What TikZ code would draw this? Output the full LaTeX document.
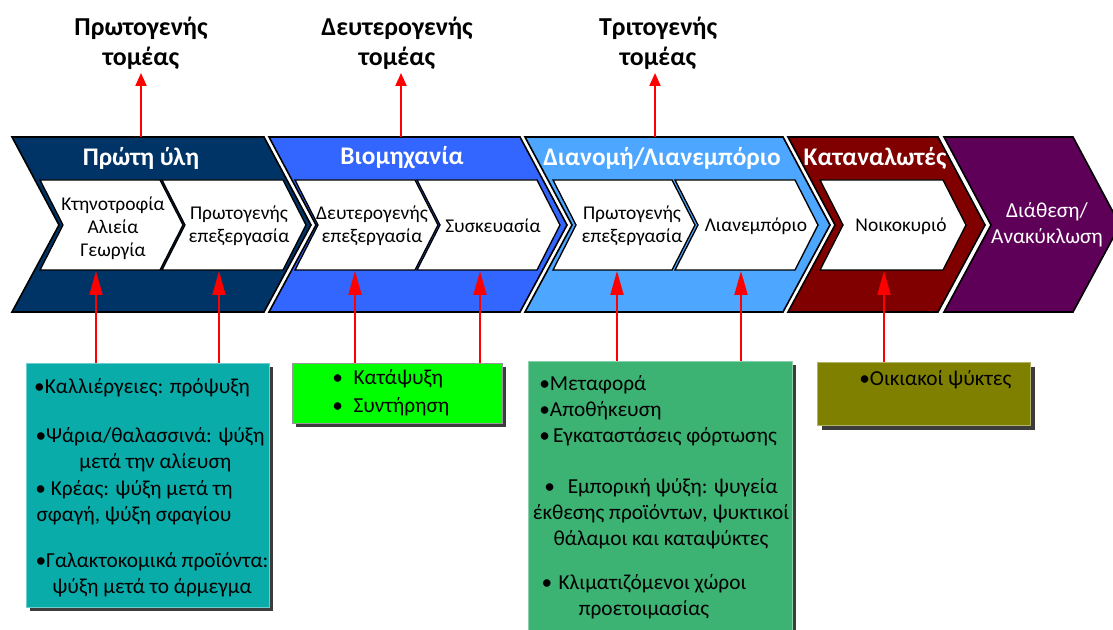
\documentclass[tikz,border=0pt]{standalone}
\usepackage{fontspec}
\setmainfont{Carlito}
\usetikzlibrary{arrows.meta}
\definecolor{cnavy}{RGB}{0,51,102}
\definecolor{cblue}{RGB}{51,102,255}
\definecolor{clblue}{RGB}{77,166,255}
\definecolor{cmaroon}{RGB}{128,0,0}
\definecolor{cpurple}{RGB}{94,0,88}
\definecolor{cteal}{RGB}{10,172,170}
\definecolor{cgreen}{RGB}{0,255,0}
\definecolor{csea}{RGB}{60,178,115}
\definecolor{colive}{RGB}{128,128,0}
\definecolor{cred}{RGB}{255,0,0}
\definecolor{cshadow}{RGB}{60,60,60}
% chevron: x1, x2, ytop, ymid, ybot, depth
\newcommand\chevp[6]{(#1,#3) -- (#2,#3) -- ({#2+#6},#4) -- (#2,#5) -- (#1,#5) -- ({#1+#6},#4) -- cycle}
\tikzset{
 outerchev/.style={draw=black, line width=1.2pt, line join=miter},
 innerchev/.style={fill=white, draw=black, line width=1pt, line join=miter},
 chevtitle/.style={text=white, font=\fontsize{19}{23}\selectfont\bfseries, inner sep=0pt},
 intext/.style={font=\fontsize{14.6}{17.25}\selectfont, align=center, inner sep=0pt},
 purptext/.style={text=white, font=\fontsize{16}{19.5}\selectfont, align=center, inner sep=0pt},
 toplab/.style={font=\fontsize{19.4}{22.5}\selectfont\bfseries, align=center, inner sep=0pt},
 boxtext/.style={font=\fontsize{16}{19.5}\selectfont, inner sep=0pt},
 uparrowt/.style={draw=cred, line width=1.5pt, -{Triangle[length=9.75pt,width=8.25pt]}},
 uparrowb/.style={draw=cred, line width=1.5pt, -{Triangle[length=18pt,width=9.75pt]}},
 shadowfill/.style={fill=cshadow},
}
\begin{document}
\begin{tikzpicture}[x=0.75pt,y=-0.75pt]
\useasboundingbox (0,0) rectangle (1113,630);
\clip (0,0) rectangle (1113,630);
\fill[white] (0,0) rectangle (1113,630);

% outer chevrons
\filldraw[outerchev, fill=cnavy]    \chevp{12}{264}{137}{225}{312}{47};
\filldraw[outerchev, fill=cblue]    \chevp{269}{520}{137}{225}{312}{47};
\filldraw[outerchev, fill=clblue]   \chevp{525}{783}{137}{225}{312}{47};
\filldraw[outerchev, fill=cmaroon]  \chevp{788}{938}{137}{225}{312}{47};
\filldraw[outerchev, fill=cpurple]  \chevp{944}{1073}{137}{225}{312}{47};

% inner chevrons
\filldraw[innerchev] \chevp{40}{160}{180}{225}{270}{23};
\filldraw[innerchev] \chevp{162}{283}{180}{225}{270}{23};
\filldraw[innerchev] \chevp{295}{415}{180}{225}{270}{23};
\filldraw[innerchev] \chevp{417}{537}{180}{225}{270}{23};
\filldraw[innerchev] \chevp{553}{672}{180}{225}{270}{23};
\filldraw[innerchev] \chevp{675}{795}{180}{225}{270}{23};
\filldraw[innerchev] \chevp{820}{943}{180}{225}{270}{23};

% titles
\node[chevtitle] (t1) at (141,158) {Πρώτη ύλη};
\node[chevtitle] (t2) at (402,158) {Βιομηχανία};
\node[chevtitle] (t3) at (662,158) {Διανομή/Λιανεμπόριο};
\node[chevtitle] (t4) at (875,158) {Καταναλωτές};
\node[purptext] (t5) at (1047,225) {Διάθεση/\\Ανακύκλωση};

% inner texts
\node[intext] (i1a) at (113,228) {Κτηνοτροφία\\Αλιεία\\Γεωργία};
\node[intext] (i1b) at (239,226) {Πρωτογενής\\επεξεργασία};
\node[intext] (i2a) at (372,226) {Δευτερογενής\\επεξεργασία};
\node[intext] (i2b) at (493,226) {Συσκευασία};
\node[intext] (i3a) at (632,226) {Πρωτογενής\\επεξεργασία};
\node[intext] (i3b) at (756,226) {Λιανεμπόριο};
\node[intext] (i4)  at (901,226) {Νοικοκυριό};

% top labels
\node[toplab] (l1) at (141,43) {Πρωτογενής\\τομέας};
\node[toplab] (l2) at (397,43) {Δευτερογενής\\τομέας};
\node[toplab] (l3) at (658,43) {Τριτογενής\\τομέας};

\coordinate (c1) at (141,137); \coordinate (e1) at (141,73);
\coordinate (c2) at (401,137); \coordinate (e2) at (401,73);
\coordinate (c3) at (655,137); \coordinate (e3) at (655,73);
\draw[uparrowt] (c1) -- (e1);
\draw[uparrowt] (c2) -- (e2);
\draw[uparrowt] (c3) -- (e3);

% boxes with shadows
\fill[shadowfill] (30,367) rectangle (273,611);
\node[fill=cteal, draw=cteal!60!white, line width=0.6pt, minimum width=243*0.75pt, minimum height=244*0.75pt, inner sep=0pt, anchor=north west] (b1) at (26,363) {};
\fill[shadowfill] (296,367) rectangle (506,427);
\node[fill=cgreen, draw=black!40, line width=0.6pt, minimum width=210*0.75pt, minimum height=60*0.75pt, inner sep=0pt, anchor=north west] (b2) at (292,363) {};
\fill[shadowfill] (532,365) rectangle (796,660);
\node[fill=csea, draw=csea!60!white, line width=0.6pt, minimum width=264*0.75pt, minimum height=290*0.75pt, inner sep=0pt, anchor=north west] (b3) at (528,361) {};
\fill[shadowfill] (822,367) rectangle (1035,430);
\node[fill=colive, draw=colive!60!white, line width=0.6pt, minimum width=213*0.75pt, minimum height=63*0.75pt, inner sep=0pt, anchor=north west] (b4) at (817,362) {};

% bottom arrows
\coordinate (s1) at (96,363);  \coordinate (f1) at (96,271);
\coordinate (s2) at (219,363); \coordinate (f2) at (219,271);
\coordinate (s3) at (355,363); \coordinate (f3) at (355,271);
\coordinate (s4) at (480,363); \coordinate (f4) at (480,271);
\coordinate (s5) at (617,361); \coordinate (f5) at (617,271);
\coordinate (s6) at (741,361); \coordinate (f6) at (741,271);
\coordinate (s7) at (884,362); \coordinate (f7) at (884,271);
\foreach \i in {1,...,7} {\draw[uparrowb] (s\i) -- (f\i);}

% teal box text
\node[boxtext] (x11) at (142,388) {•Καλλιέργειες: πρόψυξη};
\node[boxtext, align=center] (x12) at (150,450) {•Ψάρια/θαλασσινά: ψύξη\\\hspace*{8pt}μετά την αλίευση};
\node[boxtext, align=center] (x13) at (134,503) {• Κρέας: ψύξη μετά τη\\σφαγή, ψύξη σφαγίου};
\node[boxtext, align=center] (x14) at (152,575) {•Γαλακτοκομικά προϊόντα:\\ψύξη μετά το άρμεγμα};

% green box text
\node[boxtext, align=left, anchor=west, font=\fontsize{16}{21}\selectfont] (x21) at (332,393) {•\hspace{0.5em}Κατάψυξη\\•\hspace{0.5em}Συντήρηση};

% sea green box text
\node[boxtext, align=left, anchor=west] (x31) at (539,411) {•Μεταφορά\\•Αποθήκευση\\•\hspace{0.15em}Εγκαταστάσεις φόρτωσης};
\node[boxtext, align=center] (x32) at (661,514) {•\hspace{0.6em}Εμπορική ψύξη: ψυγεία\\έκθεσης προϊόντων, ψυκτικοί\\θάλαμοι και καταψύκτες};
\node[boxtext, align=center] (x33) at (644,597) {•\hspace{0.3em}Κλιματιζόμενοι χώροι\\προετοιμασίας};

% olive box text
\node[boxtext, anchor=west] (x41) at (859,380) {•Οικιακοί ψύκτες};
\end{tikzpicture}
\end{document}
